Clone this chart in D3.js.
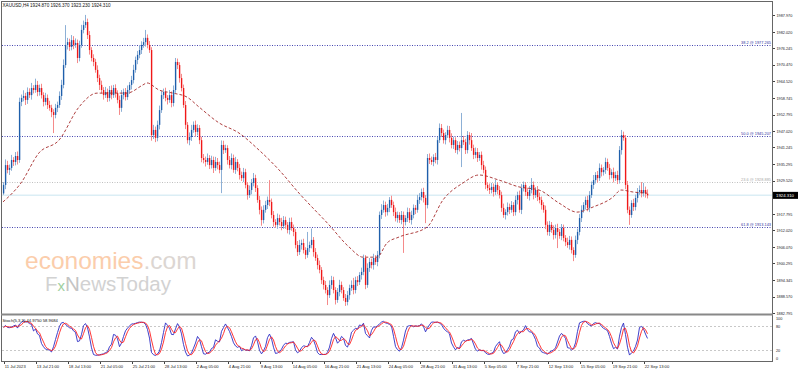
<!DOCTYPE html>
<html lang="en">
<head>
<meta charset="UTF-8">
<title>XAUUSD H4</title>
<style>
  body { margin: 0; background: #fff; }
  svg { display: block; font-family: "Liberation Sans", Arial, sans-serif; }
  .frame { fill: none; stroke: #666; shape-rendering: crispEdges; }
  .axis text { fill: #222; font-size: 3.8px; }
  .axis line { stroke: #444; shape-rendering: crispEdges; }
  .axis path { display: none; }
  .xaxis text { font-size: 4.1px; }
  .ma { fill: none; stroke: #a52a2a; stroke-dasharray: 3,2; stroke-width: 0.9; }
</style>
</head>
<body>
<div id="chart"></div>

<script src="https://cdn.jsdelivr.net/npm/d3@7"></script>
<script>
  // H4 closes, one per bar (open = previous close)
  const firstOpen = 1925.0;
  const closes = [
    1928.0,1935.0,1933.3,1934.0,1936.8,1936.1,1938.2,1936.8,1957.3,1958.7,
    1959.4,1958.0,1960.8,1959.7,1962.2,1961.5,1963.3,1960.8,1962.2,1959.7,
    1957.3,1958.7,1956.2,1955.2,1953.7,1952.7,1955.2,1956.2,1959.4,1963.3,
    1970.3,1977.4,1978.4,1976.7,1979.1,1977.4,1978.1,1972.8,1977.4,1982.7,
    1984.4,1985.5,1980.9,1975.6,1972.8,1971.4,1968.6,1965.7,1963.3,1961.5,
    1959.7,1960.8,1958.7,1961.5,1959.7,1962.2,1960.4,1958.0,1955.2,1959.7,
    1960.8,1959.0,1961.5,1963.3,1965.0,1968.6,1972.1,1973.9,1975.6,1977.4,
    1978.4,1979.9,1977.4,1975.6,1945.6,1947.4,1944.6,1949.2,1954.4,1959.7,
    1960.8,1958.7,1958.0,1959.7,1956.9,1961.5,1971.4,1970.3,1965.7,1962.2,
    1956.2,1949.2,1943.8,1944.9,1947.4,1949.2,1946.7,1948.1,1943.8,1937.5,
    1936.8,1936.1,1937.5,1935.0,1936.8,1934.0,1936.1,1935.0,1933.3,1942.1,
    1940.3,1941.0,1936.8,1935.0,1937.5,1933.3,1936.1,1934.0,1931.5,1930.4,
    1932.5,1928.0,1924.4,1926.2,1928.7,1930.4,1926.9,1922.7,1919.2,1915.6,
    1919.2,1920.9,1922.7,1922.0,1917.4,1914.9,1913.9,1916.3,1914.9,1913.5,
    1915.6,1913.9,1912.1,1914.9,1912.8,1911.4,1906.8,1904.3,1906.8,1907.5,
    1905.0,1903.3,1905.7,1906.8,1908.6,1904.3,1902.2,1899.7,1898.0,1894.4,
    1892.7,1890.9,1889.1,1892.7,1894.4,1890.9,1887.4,1890.2,1892.7,1890.9,
    1888.1,1886.7,1889.1,1891.6,1892.7,1890.9,1894.4,1893.7,1896.2,1897.3,
    1902.2,1892.7,1898.7,1900.8,1899.7,1902.2,1900.8,1903.3,1917.4,1919.2,
    1920.9,1918.4,1919.9,1922.7,1920.9,1918.4,1916.3,1917.4,1915.6,1917.4,
    1914.9,1916.3,1918.4,1915.6,1917.4,1919.9,1919.2,1922.7,1923.7,1925.5,
    1923.4,1920.9,1937.5,1936.8,1936.1,1937.8,1936.8,1943.8,1948.1,1946.3,
    1943.8,1945.6,1947.4,1944.6,1942.1,1943.8,1940.3,1942.1,1941.0,1943.8,
    1943.1,1940.3,1945.6,1943.8,1941.0,1938.6,1939.6,1937.5,1938.6,1935.0,
    1933.3,1928.0,1926.9,1926.2,1927.3,1925.5,1928.0,1926.2,1924.4,1919.9,
    1917.4,1918.4,1920.2,1919.2,1920.9,1918.4,1922.7,1924.4,1919.2,1926.9,
    1928.0,1925.5,1924.1,1926.2,1928.0,1924.4,1926.2,1923.7,1922.7,1920.9,
    1919.2,1913.9,1911.4,1913.9,1912.1,1910.3,1912.8,1911.4,1910.0,1912.8,
    1909.3,1907.8,1906.8,1908.6,1905.0,1903.3,1908.6,1911.4,1916.3,1919.2,
    1920.9,1922.7,1919.9,1924.4,1928.0,1929.7,1931.5,1930.4,1934.0,1932.5,
    1933.3,1936.1,1934.0,1931.5,1932.5,1930.4,1931.5,1929.7,1940.3,1945.6,
    1944.6,1928.0,1919.2,1917.4,1921.6,1920.2,1923.4,1925.5,1926.2,1925.1,
    1926.2,1924.9,1924.31
  ];
  // shadow lengths above / below the body
  const wickUp = [
    1.0,2.0,1.5,1.2,1.8,1.0,1.4,1.6,1.5,1.2,2.0,1.1,1.6,1.3,1.8,1.0,2.2,1.4,1.2,1.5,
    1.0,1.8,1.2,1.5,1.1,1.0,1.4,1.2,1.6,1.8,2.0,7.0,1.5,1.2,1.8,1.4,1.6,1.2,1.5,1.8,
    1.6,2.5,1.2,1.4,1.0,1.3,1.1,1.6,1.2,1.5,1.0,1.8,1.2,1.4,1.6,1.1,1.3,1.0,1.5,1.8,
    1.2,1.4,1.6,1.0,1.5,1.8,1.2,1.4,1.6,1.3,1.5,2.8,1.2,1.4,1.0,1.8,1.2,1.5,1.6,1.4,
    1.2,1.5,1.0,1.8,1.3,1.6,1.4,1.2,1.0,1.5,1.2,1.4,1.0,1.6,1.8,1.2,1.5,1.3,1.0,1.2,
    1.4,1.2,1.6,1.0,1.5,1.2,1.8,1.4,1.2,1.6,1.5,1.2,1.0,1.4,1.6,1.2,1.8,1.0,1.4,1.2,
    1.5,1.2,1.0,1.6,1.4,1.8,1.2,1.0,1.4,1.2,1.6,1.5,1.2,7.0,1.2,1.4,1.0,1.6,1.2,1.5,
    1.4,1.2,1.0,1.5,1.6,1.2,1.0,1.4,1.8,1.2,1.5,1.0,5.7,1.2,4.0,1.0,1.4,1.2,1.6,1.0,
    1.2,1.4,1.0,1.6,1.5,1.2,1.0,1.4,1.8,1.2,1.0,1.4,1.5,1.2,1.6,2.5,1.2,1.4,1.0,1.5,
    1.2,1.0,1.6,1.4,1.2,1.5,1.0,1.4,1.2,2.0,1.6,1.2,1.4,1.0,1.5,1.2,1.6,1.2,1.0,1.4,
    1.2,1.0,1.6,1.4,1.5,1.2,1.0,1.8,1.4,1.2,1.5,1.0,1.4,1.6,1.2,1.0,1.5,1.2,1.6,1.4,
    1.2,1.0,1.5,1.4,1.6,1.2,1.0,1.4,1.2,9.6,1.5,1.2,1.4,1.0,2.5,1.2,1.6,1.4,1.0,1.2,
    1.5,1.2,1.0,1.6,1.4,1.2,1.8,1.0,1.4,1.2,1.5,1.0,1.6,1.2,1.4,1.0,1.5,1.2,1.6,1.4,
    1.2,1.0,1.5,1.4,2.4,1.2,1.0,1.4,1.6,1.2,1.0,1.5,1.2,1.4,1.0,1.6,1.2,1.5,1.0,1.4,
    1.2,1.0,1.6,1.4,1.2,1.0,1.5,1.2,1.4,1.6,1.0,1.2,1.5,1.4,1.2,1.8,1.0,1.4,1.6,1.2,
    1.0,1.5,1.2,1.4,1.0,1.6,1.2,1.5,1.4,1.8,1.2,1.0,1.4,1.2,1.0,1.5,1.2,1.4,1.6,2.8,
    2.5,1.2,1.5
  ];
  const wickDown = [
    0.5,1.5,1.2,1.8,1.0,1.4,1.2,1.6,1.0,1.5,1.2,1.8,1.4,1.0,1.6,1.2,1.0,1.5,1.3,1.2,
    1.6,1.2,1.4,1.0,1.8,6.4,1.2,1.5,1.0,1.4,1.2,1.0,1.6,1.4,1.2,1.5,1.0,1.8,1.2,1.0,
    1.2,1.0,1.4,1.6,1.2,1.5,1.0,1.4,1.8,1.2,1.6,1.0,1.4,1.2,1.5,1.0,1.6,1.2,2.5,1.4,
    1.5,1.2,1.0,1.4,1.6,1.2,1.0,1.5,1.2,1.4,1.0,1.6,1.2,1.0,2.0,1.4,1.5,1.2,1.6,1.0,
    1.4,1.2,1.6,1.0,1.5,1.2,1.0,1.4,1.6,1.2,1.0,1.5,1.2,1.8,1.4,1.0,1.6,1.2,1.4,1.5,
    1.2,1.6,1.0,1.4,1.2,1.8,1.0,1.5,1.2,8.2,1.4,1.0,1.6,1.2,1.5,1.0,1.4,1.2,1.6,1.0,
    1.4,1.2,1.6,1.0,1.5,1.2,1.4,1.0,1.6,2.0,1.2,1.0,1.4,1.5,1.2,1.6,1.0,1.4,1.2,1.5,
    1.0,1.4,1.2,1.6,1.0,1.5,1.2,1.4,1.0,1.6,1.2,1.5,1.0,1.4,1.2,1.6,1.0,1.5,1.2,1.4,
    1.6,1.2,3.5,1.0,1.4,1.2,1.6,1.0,1.5,1.2,1.0,1.4,1.2,1.6,1.0,1.5,1.2,1.4,1.0,1.6,
    1.2,1.5,1.0,1.4,1.2,1.6,1.0,1.5,1.2,1.4,1.0,1.6,1.2,1.5,1.0,1.4,1.2,1.6,1.0,1.5,
    10.9,1.2,1.4,1.0,1.6,1.2,1.5,1.0,1.4,1.2,1.6,6.4,1.2,1.4,1.0,1.5,1.2,1.6,1.0,1.4,
    1.2,1.5,1.0,1.6,1.2,1.4,1.0,1.5,1.2,6.7,1.0,1.4,1.2,1.6,1.0,1.5,1.2,1.4,1.0,1.6,
    1.2,1.5,1.0,1.4,1.2,1.6,1.0,1.5,1.2,1.4,1.0,1.6,1.2,1.5,1.0,1.4,1.2,1.6,1.0,1.5,
    1.2,1.4,1.0,1.6,1.2,1.5,1.0,1.4,1.2,1.6,1.0,1.5,1.2,1.4,1.0,1.6,1.2,5.7,1.0,1.5,
    1.2,1.4,1.0,1.6,1.2,2.2,1.0,1.5,1.2,1.4,1.0,1.6,1.2,1.5,1.0,1.4,1.2,1.6,1.0,1.5,
    1.2,1.4,1.0,1.6,1.2,1.5,1.0,1.4,1.2,1.6,1.0,1.5,1.2,3.5,1.0,1.4,1.2,1.6,1.0,1.5,
    1.2,1.4,1.08
  ];

  // moving average (bar index -> price)
  const maBars = [0, 9, 18, 28, 38, 47, 62, 70, 72, 78, 85, 92, 98, 108, 118, 128, 138, 148, 163, 173,
    180, 187, 192, 198, 212, 220, 230, 238, 248, 258, 268, 278, 287, 295, 305, 309, 315, 322];
  const maValues = [1922.0, 1928.7, 1939.3, 1943.8, 1955.5, 1960.4, 1960.4, 1963.3, 1964.0, 1961.5,
    1960.4, 1959.0, 1955.5, 1949.9, 1946.3, 1940.3, 1933.3, 1925.1, 1913.9, 1906.1,
    1902.5, 1902.5, 1907.5, 1909.6, 1913.1, 1922.7, 1928.7, 1931.5, 1929.7, 1927.3,
    1926.2, 1921.6, 1918.4, 1920.2, 1923.7, 1926.2, 1925.5, 1925.1];

  const priceTicks = [1987.970, 1982.020, 1976.245, 1970.470, 1964.520, 1958.745, 1952.795, 1947.020,
    1941.245, 1935.295, 1929.520, 1917.795, 1912.020, 1906.070, 1900.295, 1894.345, 1888.570, 1882.795];
  const timeLabels = ["11 Jul 2023", "13 Jul 21:00", "18 Jul 13:00", "21 Jul 05:00", "25 Jul 21:00",
    "28 Jul 13:00", "2 Aug 05:00", "4 Aug 21:00", "9 Aug 13:00", "14 Aug 05:00", "16 Aug 21:00",
    "21 Aug 13:00", "24 Aug 05:00", "28 Aug 21:00", "31 Aug 13:00", "5 Sep 05:00", "7 Sep 21:00",
    "12 Sep 13:00", "15 Sep 05:00", "19 Sep 21:00", "22 Sep 13:00"];
  const timeLabelEvery = 16;

  const fibNames = ["38.2", "50.0", "23.6", "61.8"];
  const fibPrices = [1977.265, 1945.207, 1928.885, 1913.143];
  const fibColors = ["#4646b0", "#4646b0", "#c0c0c0", "#4646b0"];

  const stochTicks = [100, 80, 20, 0];
  const stochLines = [80, 20];
  const lastPrice = 1924.310;
  const headerText = "XAUUSD,H4  1924.870 1926.370 1923.230 1924.310";
  const stochText = "Stoch(5,3,3) 44.9750 58.9684";

  (function () {
    const width = 798;
    const height = 372;
    const right = 772;
    const mainBottom = 313;
    const stochBottom = 361;
    const n = closes.length;

    const bars = closes.map((c, i) => {
      const o = i ? closes[i - 1] : firstOpen;
      return {
        i: i, o: o, c: c,
        h: Math.max(o, c) + wickUp[i],
        l: Math.min(o, c) - wickDown[i]
      };
    });

    const x = d3.scaleLinear().domain([0, n - 1]).range([3, 3 + 2 * (n - 1)]);
    const y = d3.scaleLinear().domain([1882.795, 1987.970]).range([mainBottom, 15]);
    const ys = d3.scaleLinear().domain([0, 100]).range([358, 318.5]);

    const svg = d3.select('#chart')
      .append('svg')
      .attr('width', width)
      .attr('height', height);

    svg.append('rect').attr('width', width).attr('height', height).attr('fill', '#fff');

    // watermark
    const wm = svg.append('g');
    const eco = wm.append('text')
      .attr('x', 25).attr('y', 269)
      .style('font-size', '24.5px');
    eco.append('tspan').attr('fill', '#fbcdab').text('economies');
    eco.append('tspan').attr('fill', '#dcd6d2').text('.com');
    const fx = wm.append('text')
      .attr('x', 45).attr('y', 291)
      .style('font-size', '20.5px')
      .attr('fill', '#d2d2d2');
    fx.append('tspan').text('F');
    fx.append('tspan').attr('fill', '#9fd09f').style('font-size', '15px').text('x');
    fx.append('tspan').attr('fill', '#c4c4c4').text('N');
    fx.append('tspan').text('ewsToday');

    // current price line
    svg.append('line')
      .attr('x1', 2).attr('x2', right)
      .attr('y1', y(lastPrice)).attr('y2', y(lastPrice))
      .attr('stroke', '#dbeef5').attr('stroke-width', 1.5);

    // fibo levels
    const fib = svg.append('g');
    fibPrices.forEach((p, k) => {
      fib.append('line')
        .attr('x1', 2).attr('x2', right)
        .attr('y1', Math.round(y(p)) + 0.5).attr('y2', Math.round(y(p)) + 0.5)
        .attr('stroke', fibColors[k])
        .attr('stroke-dasharray', '1,1.5');
      fib.append('text')
        .attr('x', right - 1).attr('y', Math.round(y(p)) - 0.8)
        .attr('text-anchor', 'end')
        .attr('fill', fibColors[k] === '#c0c0c0' ? '#a8a8a8' : '#3030a0')
        .style('font-size', '3.9px')
        .text(fibNames[k] + ' @ ' + p.toFixed(3));
    });

    // candles
    const gc = svg.append('g');
    gc.selectAll('.wick')
      .data(bars)
      .enter()
      .append('line')
      .attr('x1', d => x(d.i) + 0.5).attr('x2', d => x(d.i) + 0.5)
      .attr('y1', d => y(d.h)).attr('y2', d => y(d.l))
      .attr('stroke', d => d.c >= d.o ? '#8db0d6' : '#f58a8a')
      .attr('stroke-width', 1);
    gc.selectAll('.body')
      .data(bars)
      .enter()
      .append('rect')
      .attr('x', d => x(d.i) - 0.1)
      .attr('width', 1.4)
      .attr('y', d => y(Math.max(d.o, d.c)))
      .attr('height', d => Math.max(0.8, Math.abs(y(d.o) - y(d.c))))
      .attr('fill', d => d.c >= d.o ? '#1f5fab' : '#f01818');

    // moving average
    svg.append('path')
      .datum(maBars.map((b, k) => [b, maValues[k]]))
      .attr('class', 'ma')
      .attr('d', d3.line().x(d => x(d[0])).y(d => y(d[1])).curve(d3.curveMonotoneX));

    // stochastic 5,3,3
    const num = [], den = [];
    bars.forEach((d, i) => {
      const win = bars.slice(Math.max(0, i - 4), i + 1);
      const hh = d3.max(win, b => b.h);
      const ll = d3.min(win, b => b.l);
      num.push(d.c - ll);
      den.push(hh - ll);
    });
    const kMain = bars.map((d, i) => {
      const s = Math.max(0, i - 2);
      const dn = d3.sum(den.slice(s, i + 1));
      return dn ? d3.sum(num.slice(s, i + 1)) / dn * 100 : 50;
    });
    const dSig = kMain.map((v, i) => d3.mean(kMain.slice(Math.max(0, i - 2), i + 1)));

    stochLines.forEach(v => {
      svg.append('line')
        .attr('x1', 2).attr('x2', right)
        .attr('y1', Math.round(ys(v)) + 0.5).attr('y2', Math.round(ys(v)) + 0.5)
        .attr('stroke', '#c8c8c8')
        .attr('stroke-dasharray', '2,2');
    });

    const sline = d3.line().x((v, i) => x(i) + 0.5).y(v => ys(v));
    svg.append('path').datum(kMain)
      .attr('fill', 'none').attr('stroke', '#2b2bc4').attr('stroke-width', 0.9)
      .attr('d', sline);
    svg.append('path').datum(dSig)
      .attr('fill', 'none').attr('stroke', '#ff2020').attr('stroke-width', 0.9)
      .attr('d', sline);

    // frame
    svg.append('rect').attr('class', 'frame')
      .attr('x', 1.5).attr('y', 1.5).attr('width', right - 1).attr('height', stochBottom - 1);
    svg.append('line')
      .attr('x1', 1).attr('x2', right + 1)
      .attr('y1', 314.5).attr('y2', 314.5)
      .attr('stroke', '#888').attr('stroke-width', 2);

    // axes
    svg.append('g')
      .attr('class', 'axis')
      .attr('transform', `translate(${right + 0.5},0)`)
      .call(d3.axisRight(y).tickValues(priceTicks).tickSize(2.5).tickPadding(1.5)
        .tickFormat(d3.format('.3f')));

    svg.append('g')
      .attr('class', 'axis')
      .attr('transform', `translate(${right + 0.5},0)`)
      .call(d3.axisRight(ys).tickValues(stochTicks).tickSize(0).tickPadding(3.5));

    svg.append('g')
      .attr('class', 'axis xaxis')
      .attr('transform', `translate(0.5,${stochBottom + 0.5})`)
      .call(d3.axisBottom(x).tickValues(timeLabels.map((t, k) => k * timeLabelEvery))
        .tickSize(2.5).tickPadding(1.2)
        .tickFormat((d, k) => timeLabels[k]))
      .selectAll('text')
      .attr('text-anchor', 'start')
      .attr('dx', 0.8);

    // last price tag
    svg.append('rect')
      .attr('x', right + 1).attr('y', y(lastPrice) - 3.5)
      .attr('width', 25).attr('height', 7)
      .attr('fill', '#000');
    svg.append('text')
      .attr('x', right + 4).attr('y', y(lastPrice) + 1.6)
      .attr('fill', '#fff')
      .style('font-size', '4.3px')
      .text(lastPrice.toFixed(3));

    // labels
    svg.append('text')
      .attr('x', 2.5).attr('y', 6.6)
      .attr('fill', '#111')
      .style('font-size', '4.6px')
      .text(headerText);
    svg.append('text')
      .attr('x', 2.5).attr('y', 321.5)
      .attr('fill', '#111')
      .style('font-size', '4.2px')
      .text(stochText);

  })();
</script>
</body>
</html>
